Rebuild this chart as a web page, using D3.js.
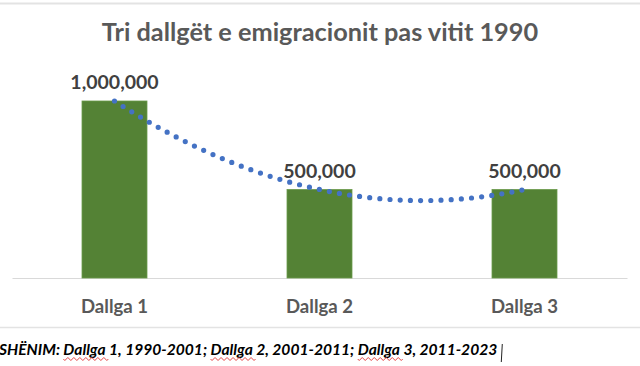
<!DOCTYPE html>
<html><head><meta charset="utf-8">
<script src="https://cdn.jsdelivr.net/npm/d3@7"></script>
<style>html,body{margin:0;padding:0;background:#fff;overflow:hidden}</style>
</head><body><svg id="c" width="640" height="366"></svg>
<script>
const title = "Tri dallgët e emigracionit pas vitit 1990";
const categories = ["Dallga 1", "Dallga 2", "Dallga 3"];
const values = [1000000, 500000, 500000];
const noteParts = [
  {t: "SHËNIM: ", sq: false},
  {t: "Dallga", sq: true}, {t: " 1, 1990-2001; ", sq: false},
  {t: "Dallga", sq: true}, {t: " 2, 2001-2011; ", sq: false},
  {t: "Dallga", sq: true}, {t: " 3, 2011-2023", sq: false}
];

const svg = d3.select("#c");
const FONT = "Lato, 'Open Sans', sans-serif";

// frame lines
svg.append("line").attr("x1",0).attr("x2",640).attr("y1",3.5).attr("y2",3.5).attr("stroke","#e3e3e3").attr("stroke-width",2);
svg.append("line").attr("x1",0).attr("x2",640).attr("y1",327.5).attr("y2",327.5).attr("stroke","#e3e3e3").attr("stroke-width",1.5);

const x = d3.scaleBand().domain(categories).range([12, 627]).paddingInner(0.683).paddingOuter(0.3415);
const y = d3.scaleLinear().domain([0, 1000000]).range([278, 101]);

// title
svg.append("text").attr("x", 320).attr("y", 41).attr("text-anchor","middle")
  .attr("font-family", FONT).attr("font-weight", 700).attr("font-size", 25.3)
  .attr("fill", "#595959").text(title);

// baseline axis
const xAxis = d3.axisBottom(x).tickSize(0).tickPadding(20);
const gx = svg.append("g").attr("transform", "translate(0,278)").call(xAxis);
gx.select(".domain").attr("stroke", "#d9d9d9").attr("stroke-width", 1.2);
gx.selectAll("text").attr("font-family", FONT).attr("font-weight", 700).attr("font-size", 18.6).attr("fill", "#595959").attr("dy","0.35em").attr("y", 28);

// bars
svg.selectAll("rect.bar").data(values).join("rect").attr("class","bar")
  .attr("x", (d,i) => x(categories[i])).attr("width", x.bandwidth())
  .attr("y", d => y(d)).attr("height", d => y(0) - y(d))
  .attr("fill", "#548235").attr("stroke", "#6a9a4a").attr("stroke-width", 0.8);

// value labels
const fmt = d3.format(",");
svg.selectAll("text.val").data(values).join("text").attr("class","val")
  .attr("x", (d,i) => x(categories[i]) + x.bandwidth()/2).attr("y", d => y(d) - 12)
  .attr("text-anchor","middle").attr("font-family", FONT).attr("font-weight", 700)
  .attr("font-size", 19.5).attr("fill", "#404040").text(d => fmt(d));

// polynomial (order 2) trendline fitted to the values, as in the spreadsheet
const xs = values.map((d,i) => i + 1);
function polyFit2(xv, yv) {
  const S = k => d3.sum(xv, v => Math.pow(v, k));
  const T = k => d3.sum(xv, (v, i) => Math.pow(v, k) * yv[i]);
  const A = [[S(4), S(3), S(2)], [S(3), S(2), S(1)], [S(2), S(1), S(0)]];
  const B = [T(2), T(1), T(0)];
  for (let i = 0; i < 3; i++) {
    for (let j = i + 1; j < 3; j++) {
      const f = A[j][i] / A[i][i];
      for (let k = i; k < 3; k++) A[j][k] -= f * A[i][k];
      B[j] -= f * B[i];
    }
  }
  const r = [0,0,0];
  for (let i = 2; i >= 0; i--) {
    let s = B[i];
    for (let k = i + 1; k < 3; k++) s -= A[i][k] * r[k];
    r[i] = s / A[i][i];
  }
  return r;
}
const coef = polyFit2(xs, values);
const xi = d3.scaleLinear().domain([1, 3]).range([x(categories[0]) + x.bandwidth()/2, x(categories[2]) + x.bandwidth()/2]);
const trend = d3.range(1, 3.0001, 0.02).map(t => [xi(t), y(coef[0]*t*t + coef[1]*t + coef[2])]);
svg.append("path").attr("d", d3.line()(trend)).attr("fill","none")
  .attr("stroke","#4472C4").attr("stroke-width",5.2).attr("stroke-linecap","round")
  .attr("stroke-dasharray","0 10.2");

// note
const x0 = -1;
const note = svg.append("text").attr("x", x0).attr("y", 355)
  .attr("font-family", FONT).attr("font-weight", 700).attr("font-style","italic")
  .attr("font-size", 15.6).attr("fill", "#000");
noteParts.forEach(p => note.append("tspan").text(p.t));
let pos = 0;
const node = note.node();
noteParts.forEach(p => {
  if (p.sq) {
    const sx = node.getSubStringLength(0, pos) + x0;
    const w = node.getSubStringLength(pos, p.t.length);
    let d = `M${sx},359`;
    for (let k = 0; k * 3 < w; k++) d += `l1.5,${k % 2 ? -1.5 : 1.5}l1.5,${k % 2 ? 1.5 : -1.5}`;
    svg.append("path").attr("d", d).attr("fill","none").attr("stroke","#e03030").attr("stroke-width",0.9);
  }
  pos += p.t.length;
});
const endX = node.getComputedTextLength() + x0;
svg.append("line").attr("x1", endX + 5).attr("x2", endX + 4).attr("y1", 344).attr("y2", 362)
  .attr("stroke", "#222").attr("stroke-width", 1);
</script></body></html>
